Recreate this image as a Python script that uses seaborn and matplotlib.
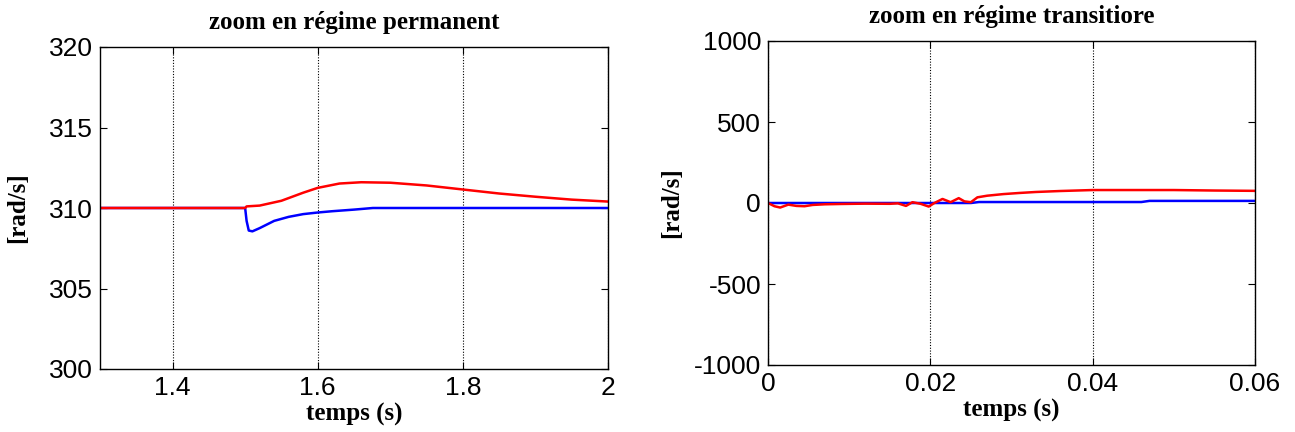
import numpy as np
import pandas as pd
import matplotlib
matplotlib.use("Agg")
import matplotlib.pyplot as plt
import seaborn as sns
from matplotlib.ticker import FixedLocator, FixedFormatter

sns.set_theme(style="white")
plt.rcParams['font.family'] = ['Liberation Sans', 'DejaVu Sans']
plt.rcParams['text.color'] = 'black'
plt.rcParams['axes.labelcolor'] = 'black'

# ---- data: steady-state zoom ----
t_perm_blue = [1.3, 1.45, 1.5, 1.502, 1.505, 1.51, 1.52, 1.54, 1.56, 1.58, 1.6, 1.62, 1.65, 1.676, 1.7, 1.8, 1.9, 2.0]
w_perm_blue = [310, 310, 310, 309.2, 308.6, 308.55, 308.75, 309.2, 309.45, 309.62, 309.72, 309.8, 309.9, 310.0, 310.0, 310.0, 310.0, 310.0]
t_perm_red = [1.3, 1.45, 1.5, 1.502, 1.52, 1.55, 1.58, 1.6, 1.63, 1.66, 1.7, 1.75, 1.8, 1.85, 1.9, 1.95, 2.0]
w_perm_red = [310, 310, 310.0, 310.1, 310.15, 310.45, 310.95, 311.25, 311.52, 311.6, 311.57, 311.4, 311.15, 310.9, 310.7, 310.52, 310.4]

# ---- data: transient zoom ----
t_tr_blue = [0.0, 0.01, 0.02, 0.025, 0.026, 0.04, 0.046, 0.047, 0.06]
w_tr_blue = [0, 0, 0, 0, 6, 6, 6, 13, 13]
t_tr_red = [0.0, 0.0008, 0.0015, 0.0025, 0.0035, 0.0045, 0.0055, 0.007, 0.009, 0.012, 0.015, 0.016, 0.017, 0.0178, 0.0188, 0.0198, 0.0205,
            0.0215, 0.0225, 0.0235, 0.0242, 0.025, 0.0258, 0.027, 0.029, 0.031, 0.033, 0.036, 0.04, 0.045, 0.05, 0.055, 0.06]
w_tr_red = [0, -20, -28, -10, -18, -20, -12, -8, -6, -4, -5, -2, -18, 5, -5, -22, 0,
            25, 5, 30, 10, 5, 35, 45, 55, 62, 68, 74, 80, 80, 80, 77, 75]

perm_xticks = [1.4, 1.6, 1.8, 2.0]
perm_xlabels = ["1.4", "1.6", "1.8", "2"]
perm_yticks = [300, 305, 310, 315, 320]
tr_xticks = [0, 0.02, 0.04, 0.06]
tr_xlabels = ["0", "0.02", "0.04", "0.06"]
tr_yticks = [-1000, -500, 0, 500, 1000]

W, H = 1295, 432
fig = plt.figure(figsize=(W / 100, H / 100), dpi=100)
fig.patch.set_facecolor("white")
ax1 = fig.add_axes([100 / W, (H - 369) / H, 508 / W, 322 / H])
ax2 = fig.add_axes([768 / W, (H - 365) / H, 487 / W, 324 / H])

serif = ['Liberation Serif', 'DejaVu Serif']


def style(ax, xt, xl, yt, xlim, ylim, title, ylpad):
    ax.set_facecolor("white")
    ax.set_xlim(*xlim)
    ax.set_ylim(*ylim)
    ax.xaxis.set_major_locator(FixedLocator(xt))
    ax.xaxis.set_major_formatter(FixedFormatter(xl))
    ax.yaxis.set_major_locator(FixedLocator(yt))
    ax.yaxis.set_major_formatter(FixedFormatter([str(v) for v in yt]))
    for x in xt:
        ax.axvline(x, color="black", linestyle=(0, (1, 1.5)), lw=0.8, zorder=0)
    for s in ax.spines.values():
        s.set_visible(True)
        s.set_color("black")
        s.set_linewidth(1.0)
    ax.tick_params(direction="in", length=5, width=0.8, colors="black",
                   labelsize=19, top=True, right=True, bottom=True, left=True, pad=5)
    ax.set_title(title, family=serif, fontweight="bold", fontsize=18, pad=13, color="black")
    ax.set_xlabel("temps (s)", family=serif, fontweight="bold", fontsize=18, labelpad=2, color="black")
    ax.set_ylabel("[rad/s]", family=serif, fontweight="bold", fontsize=18, labelpad=ylpad, color="black")


sns.lineplot(x=t_perm_blue, y=w_perm_blue, ax=ax1, color="#0000ff", lw=1.8, sort=False, estimator=None)
sns.lineplot(x=t_perm_red, y=w_perm_red, ax=ax1, color="#ff0000", lw=1.8, sort=False, estimator=None)
style(ax1, perm_xticks, perm_xlabels, perm_yticks, (1.3, 2.0), (300, 320), "zoom en régime permanent", 14)

sns.lineplot(x=t_tr_blue, y=w_tr_blue, ax=ax2, color="#0000ff", lw=1.8, sort=False, estimator=None)
sns.lineplot(x=t_tr_red, y=w_tr_red, ax=ax2, color="#ff0000", lw=1.8, sort=False, estimator=None)
style(ax2, tr_xticks, tr_xlabels, tr_yticks, (0, 0.06), (-1000, 1000), "zoom en régime transitiore", 8)

fig.savefig("out.png", dpi=100, facecolor="white")
